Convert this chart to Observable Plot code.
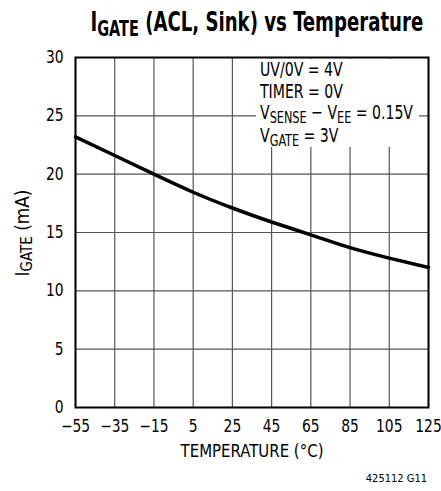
<!DOCTYPE html>
<html><head><meta charset="utf-8">
<script src="https://cdn.jsdelivr.net/npm/d3@7"></script>
<script src="https://cdn.jsdelivr.net/npm/@observablehq/plot@0.6"></script>
<style>
body{margin:0;background:#fff;font-family:"DejaVu Sans Condensed","DejaVu Sans",sans-serif;color:#000;}
#wrap{position:relative;width:441px;height:491px;overflow:hidden;}
#title{position:absolute;left:0;top:9px;width:441px;padding-left:42px;box-sizing:border-box;text-align:center;font-weight:bold;font-size:26px;line-height:26px;white-space:nowrap;}
#title span.t{display:inline-block;transform-origin:50% 50%;}
#chart{position:absolute;left:0;top:45px;}
.sub{font-size:0.8em;position:relative;top:0.22em;}
#legend{position:absolute;left:256px;top:59px;width:163px;height:88px;background:#fff;padding-left:4px;box-sizing:border-box;font-size:20px;line-height:21.7px;white-space:nowrap;}
#legend .ln{display:inline-block;transform-origin:0 50%;}
#ylabel{position:absolute;left:-78px;top:222.5px;width:200px;height:20px;line-height:20px;font-size:19px;text-align:center;transform:rotate(-90deg);transform-origin:100px 10px;white-space:nowrap;}
#ylabel span.t{display:inline-block;transform-origin:50% 50%;}
#caption{position:absolute;right:14px;top:472px;font-size:11px;line-height:14px;white-space:nowrap;}
</style>
</head><body>
<div id="wrap">
  <div id="title"><span class="t">I<span class="sub">GATE</span> (ACL, Sink) vs Temperature</span></div>
  <div id="chart"></div>
  <div id="legend">
    <div><span class="ln">UV/0V = 4V</span></div>
    <div><span class="ln">TIMER = 0V</span></div>
    <div><span class="ln">V<span class="sub">SENSE</span> − V<span class="sub">EE</span> = 0.15V</span></div>
    <div><span class="ln">V<span class="sub">GATE</span> = 3V</span></div>
  </div>
  <div id="ylabel"><span class="t">I<span class="sub">GATE</span> (mA)</span></div>
  <div id="caption">425112 G11</div>
</div>
<script>
const temperature = [-55, -35, -15, 5, 25, 45, 65, 85, 105, 125];
const igate = [23.2, 21.6, 20.0, 18.45, 17.1, 15.9, 14.8, 13.7, 12.8, 12.0];
const xTicks = [-55, -35, -15, 5, 25, 45, 65, 85, 105, 125];
const yTicks = [0, 5, 10, 15, 20, 25, 30];
const xLabel = "TEMPERATURE (°C)";

const data = temperature.map((t, i) => ({t, v: igate[i]}));
const font = '"DejaVu Sans Condensed","DejaVu Sans",sans-serif';

const chart = Plot.plot({
  width: 441,
  height: 446,
  marginLeft: 75,
  marginRight: 13,
  marginTop: 12,
  marginBottom: 84,
  style: {fontFamily: font, fontSize: "17px", color: "#000", background: "#fff"},
  x: {domain: [-55, 125]},
  y: {domain: [0, 30]},
  marks: [
    Plot.gridX(xTicks, {stroke: "#555", strokeOpacity: 1, strokeWidth: 1.2}),
    Plot.gridY(yTicks, {stroke: "#555", strokeOpacity: 1, strokeWidth: 1.2}),
    Plot.line(data, {x: "t", y: "v", curve: "natural", stroke: "#000", strokeWidth: 3.5}),
    Plot.frame({stroke: "#000", strokeWidth: 2}),
    Plot.axisX(xTicks, {tickSize: 0, tickPadding: 12, fontSize: 17.5, label: null}),
    Plot.axisY(yTicks, {tickSize: 0, tickPadding: 12, fontSize: 17.5, label: null}),
    Plot.text([xLabel], {frameAnchor: "bottom", lineAnchor: "top", dy: 36, fontSize: 18.5, text: d => d})
  ]
});
document.getElementById("chart").appendChild(chart);

// condense tick labels horizontally, like the reference's narrow face
d3.select(chart).selectAll('g[aria-label="x-axis tick label"] text, g[aria-label="y-axis tick label"] text')
  .attr("transform", function() { return (this.getAttribute("transform") || "") + " scale(0.88,1)"; });
d3.select(chart).selectAll('g[aria-label="text"] text')
  .attr("transform", function() { return (this.getAttribute("transform") || "") + " scale(0.9,1)"; });

function fitWidth(el, target) {
  return target / el.offsetWidth;
}
const t = document.querySelector("#title span.t");
t.style.transform = `scaleX(${fitWidth(t, 333)})`;
const lns = document.querySelectorAll("#legend .ln");
const s = fitWidth(lns[0], 83);
lns.forEach(el => el.style.transform = `scaleX(${s})`);
const yl = document.querySelector("#ylabel span.t");
yl.style.transform = `scaleX(${fitWidth(yl, 87)})`;
</script>
</body></html>
